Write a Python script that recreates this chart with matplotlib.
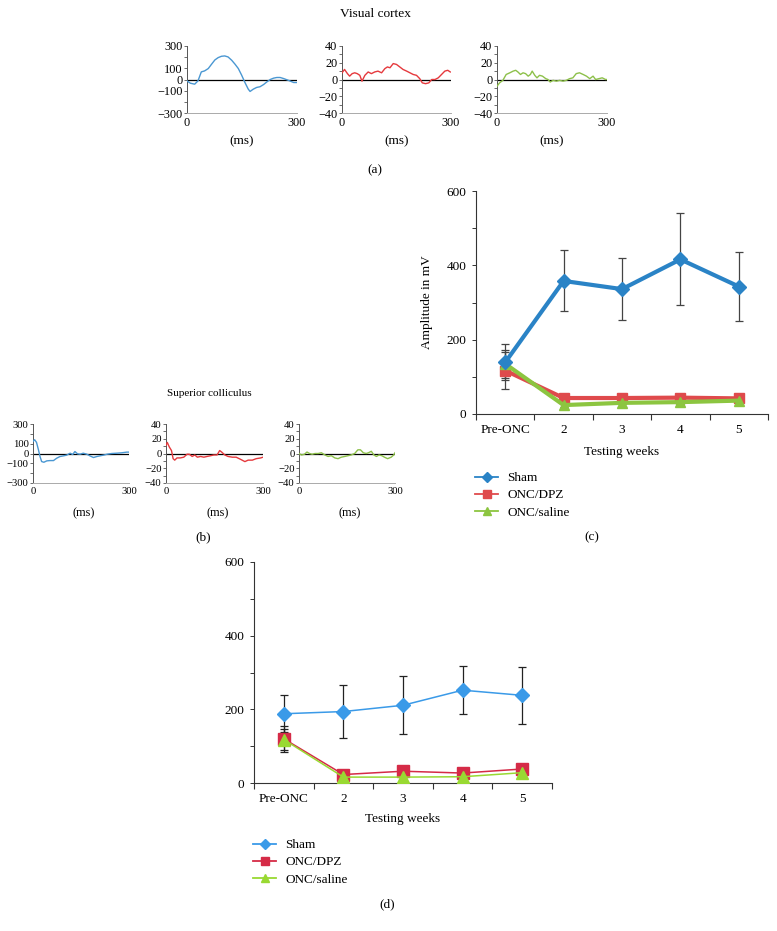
import numpy as np
import matplotlib.pyplot as plt
from matplotlib.lines import Line2D

plt.rcParams['font.family'] = ['Liberation Serif', 'DejaVu Serif']
plt.rcParams['font.size'] = 9

# waveforms, (ms, amplitude)
vc_sham_t = [0, 9, 21, 30, 39, 48, 58, 67, 76, 85, 94, 103, 112, 122, 131, 140, 149, 158, 167, 172,
             181, 190, 199, 209, 218, 227, 236, 245, 254, 263, 273, 282, 291, 300]
vc_sham_v = [-12, -33, -42, -12, 68, 77, 98, 137, 175, 196, 208, 211, 202, 172, 137, 98, 39, -27, -86, -107,
             -86, -71, -65, -45, -21, 0, 12, 18, 18, 9, -3, -15, -27, -27]

vc_dpz_t = [0, 7, 15, 21, 28, 35, 42, 49, 55, 63, 72, 81, 90, 99, 109, 118, 125, 132, 141, 150,
            159, 168, 178, 187, 196, 205, 214, 221, 230, 239, 247, 256, 265, 274, 283, 291, 298]
vc_dpz_v = [8, 12, 7, 4, 7, 8, 7, 5, -2, 5, 9, 7, 9, 10, 8, 13, 15, 14, 19, 18,
            15, 12, 10, 8, 6, 5, 1, -4, -5, -4, 0, 0, 2, 6, 10, 11, 9]

vc_sal_t = [0, 7, 16, 25, 35, 44, 51, 57, 64, 71, 78, 85, 91, 96, 103, 109, 116, 124, 133, 139,
            145, 153, 162, 171, 180, 189, 198, 207, 216, 225, 235, 244, 253, 262, 269, 278, 287, 296, 300]
vc_sal_v = [-8, -4, -1, 6, 8, 10, 11, 9, 6, 8, 7, 4, 6, 10, 5, 2, 5, 4, 1, 0,
            -3, -1, -2, -1, -2, -1, 1, 2, 7, 8, 6, 4, 1, 4, 0, 1, 2, 0, 0]

sc_sham_t = [0, 5, 11, 17, 22, 27, 34, 43, 53, 64, 74, 84, 95, 105, 116, 124, 131, 139, 147, 157,
             168, 178, 189, 199, 209, 220, 232, 246, 261, 277, 293, 300]
sc_sham_v = [123, 140, 113, 38, -31, -82, -89, -75, -72, -72, -48, -31, -24, -17, 3, -10, 20, -3, -7, 3,
             -7, -24, -41, -31, -24, -17, -7, 0, 3, 7, 14, 14]

sc_dpz_t = [0, 4, 10, 17, 22, 27, 34, 44, 55, 65, 72, 81, 89, 97, 107, 117, 127, 138, 148, 158,
            166, 172, 182, 192, 205, 217, 231, 244, 254, 267, 279, 293, 300]
sc_dpz_v = [11, 15, 9, 4, -7, -9, -6, -6, -5, -1, -1, -4, -2, -5, -4, -5, -4, -3, -2, -2,
            4, 2, -2, -4, -5, -5, -8, -11, -9, -9, -7, -6, -5]

sc_sal_t = [0, 8, 17, 25, 33, 41, 50, 60, 70, 81, 91, 101, 112, 122, 132, 143, 153, 163, 174, 184,
            192, 201, 210, 217, 226, 234, 242, 250, 259, 267, 277, 288, 296, 300]
sc_sal_v = [0, -2, -1, 2, 0, -1, 0, 0, 1, -2, -4, -3, -6, -7, -5, -4, -3, -2, 0, 5,
            5, 1, 0, 1, 3, -2, -4, -2, -3, -5, -7, -5, -2, 1]

# amplitude summaries
weeks = ['Pre-ONC', '2', '3', '4', '5']
groups = ['Sham', 'ONC/DPZ', 'ONC/saline']

vc_mean = {'Sham': [139, 358, 336, 416, 343],
           'ONC/DPZ': [117, 43, 43, 44, 42],
           'ONC/saline': [135, 24, 30, 32, 36]}
vc_err = {'Sham': [48, 82, 83, 124, 92],
          'ONC/DPZ': [50, 4, 4, 4, 4],
          'ONC/saline': [38, 4, 4, 4, 4]}

sc_mean = {'Sham': [188, 194, 211, 252, 238],
           'ONC/DPZ': [120, 23, 32, 27, 38],
           'ONC/saline': [118, 16, 16, 17, 28]}
sc_err = {'Sham': [50, 71, 79, 65, 78],
          'ONC/DPZ': [36, 5, 6, 6, 10],
          'ONC/saline': [29, 4, 4, 4, 6]}

W, H = 777, 931
fig = plt.figure(figsize=(W / 100, H / 100), dpi=100)


def box(x0, y0, x1, y1):
    # pixel box -> figure fraction
    return [x0 / W, 1 - y1 / H, (x1 - x0) / W, (y1 - y0) / H]


def label(x, y, s, size, **kw):
    fig.text(x / W, 1 - y / H, s, ha='center', va='center', fontsize=size, **kw)


def trace(rect, t, v, color, lim, labeled, fs):
    ax = fig.add_axes(box(*rect))
    ax.plot(t, v, color=color, lw=1.0, zorder=3)
    ax.axhline(0, color='black', lw=0.9, zorder=2)
    ax.set_xlim(0, 300)
    ax.set_ylim(-lim, lim)
    ax.set_xticks([0, 300])
    step = 10 if lim == 40 else 100
    yt = np.arange(-lim, lim + 1, step)
    ax.set_yticks(yt)
    ax.set_yticklabels([(str(int(y)).replace('-', '\u2212') if int(y) in labeled else '') for y in yt])
    ax.tick_params(axis='x', length=0, pad=3, labelsize=fs)
    ax.tick_params(axis='y', length=2, width=0.6, pad=1.2, color='#555555', labelsize=fs)
    for s in ['top', 'right']:
        ax.spines[s].set_visible(False)
    ax.spines['left'].set_color('#555555')
    ax.spines['left'].set_linewidth(0.7)
    ax.spines['bottom'].set_color('#aaaaaa')
    ax.spines['bottom'].set_linewidth(0.7)
    return (rect[0] + rect[2]) / 2


blue_t = '#4a97d2'
red_t = '#e5393d'
green_t = '#8dc04a'

big = [-300, -100, 0, 100, 300]
small = [-40, -20, 0, 20, 40]

# (a) visual cortex
label(375, 14, 'Visual cortex', 9.6)
for rect, t, v, c, lim, lab in [((187, 46, 297, 113), vc_sham_t, vc_sham_v, blue_t, 300, big),
                                 ((342, 46, 451, 113), vc_dpz_t, vc_dpz_v, red_t, 40, small),
                                 ((497, 46, 607, 113), vc_sal_t, vc_sal_v, green_t, 40, small)]:
    cx = trace(rect, t, v, c, lim, lab, 8.8)
    label(cx, 141, '(ms)', 9.5)
label(375, 170, '(a)', 9.5)

# (b) superior colliculus
label(209, 394, 'Superior colliculus', 8)
for rect, t, v, c, lim, lab in [((33, 424, 129, 483), sc_sham_t, sc_sham_v, blue_t, 300, big),
                                 ((166, 424, 263, 483), sc_dpz_t, sc_dpz_v, red_t, 40, small),
                                 ((299, 424, 395, 483), sc_sal_t, sc_sal_v, green_t, 40, small)]:
    cx = trace(rect, t, v, c, lim, lab, 7.7)
    label(cx + 3, 513, '(ms)', 8.8)
label(203, 537, '(b)', 9.5)


def summary(rect, means, errs, colors, lw, ms, ecolor, legend_xy, tag_xy, tag, xlab_y, ylabel=None):
    ax = fig.add_axes(box(*rect))
    x = np.arange(len(weeks)) + 0.5
    markers = {'Sham': 'D', 'ONC/DPZ': 's', 'ONC/saline': '^'}
    order = ['ONC/DPZ', 'ONC/saline', 'Sham']
    for g in order:
        ax.errorbar(x, means[g], yerr=errs[g], fmt='none', ecolor=ecolor, elinewidth=0.9,
                    capsize=3, capthick=0.9, zorder=1)
    for i, g in enumerate(order):
        ax.plot(x, means[g], color=colors[g], lw=lw, marker=markers[g],
                ms=ms[g], zorder=3 + i)
    ax.set_xlim(0, 5)
    ax.set_ylim(0, 600)
    ax.set_xticks(np.arange(6))
    ax.set_xticklabels([])
    ax.set_xticks(x, minor=True)
    ax.set_xticklabels(weeks, minor=True)
    ax.tick_params(axis='x', which='major', length=4, width=0.8, direction='out', color='#333333')
    ax.tick_params(axis='x', which='minor', length=0, pad=7, labelsize=9.5)
    ax.set_yticks([0, 200, 400, 600])
    ax.set_yticks([100, 300, 500], minor=True)
    ax.tick_params(axis='y', which='both', length=3, width=0.7, pad=4, color='#333333', labelsize=9.5)
    for s in ['top', 'right']:
        ax.spines[s].set_visible(False)
    ax.spines['left'].set_color('#333333')
    ax.spines['bottom'].set_color('#333333')
    ax.spines['left'].set_linewidth(0.8)
    ax.spines['bottom'].set_linewidth(0.8)
    cx = (rect[0] + rect[2]) / 2
    label(cx, xlab_y, 'Testing weeks', 9.5)
    if ylabel:
        label(rect[0] - 49, (rect[1] + rect[3]) / 2, ylabel, 9.5, rotation=90)
    handles = [Line2D([], [], color=colors[g], lw=1.3, marker=markers[g], ms=5.5) for g in groups]
    fig.legend(handles, groups, loc='upper left', bbox_to_anchor=legend_xy,
               bbox_transform=fig.transFigure, frameon=False, fontsize=9.5,
               borderaxespad=0, borderpad=0, handlelength=1.75, handletextpad=0.7,
               labelspacing=0.38)
    label(tag_xy[0], tag_xy[1], tag, 9.5)
    return ax


c_colors = {'Sham': '#2a83c6', 'ONC/DPZ': '#df4a4c', 'ONC/saline': '#8cc540'}
summary((476, 191, 768, 414), vc_mean, vc_err, c_colors, 3.0,
        {'Sham': 7, 'ONC/DPZ': 7.5, 'ONC/saline': 7.5}, '#444444',
        (475 / W, 1 - 472 / H), (592, 537), '(c)', 452, ylabel='Amplitude in mV')

d_colors = {'Sham': '#3a9ae8', 'ONC/DPZ': '#d52b47', 'ONC/saline': '#99d932'}
summary((254, 562, 552, 783), sc_mean, sc_err, d_colors, 1.1,
        {'Sham': 7.5, 'ONC/DPZ': 9, 'ONC/saline': 8.5}, '#222222',
        (253 / W, 1 - 839 / H), (387, 904), '(d)', 819)

fig.savefig('out.png', dpi=100)
